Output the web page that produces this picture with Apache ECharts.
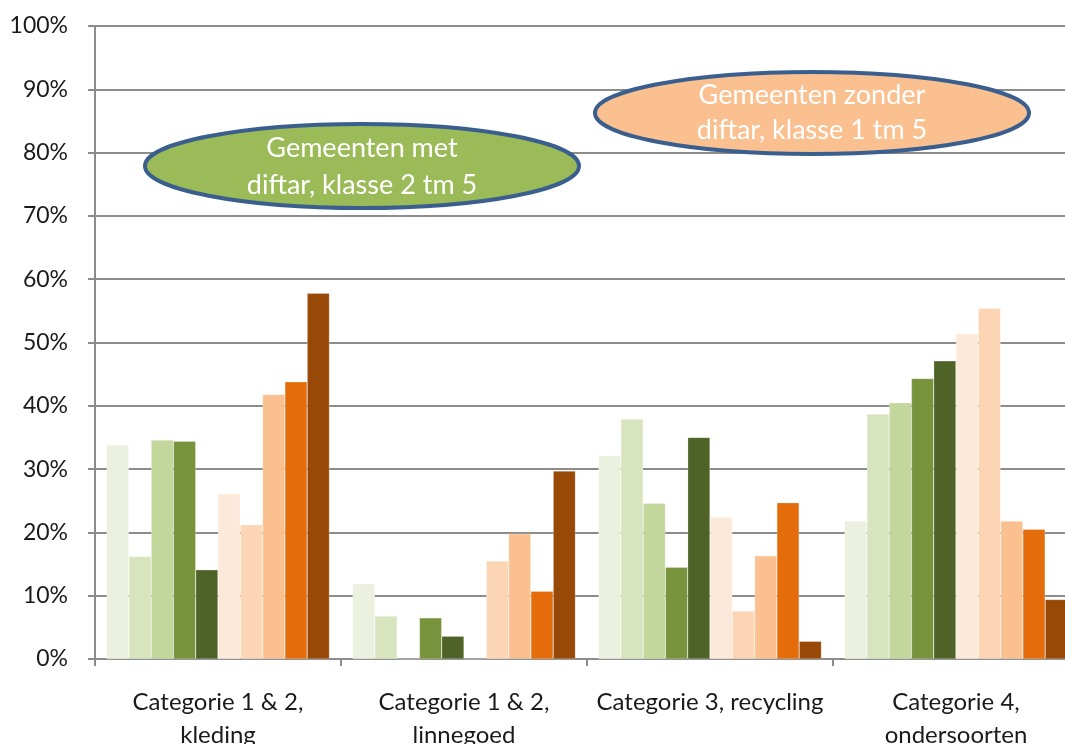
<!DOCTYPE html>
<html>
<head>
<meta charset="utf-8">
<script src="https://cdn.jsdelivr.net/npm/echarts@6/dist/echarts.min.js"></script>
<style>
  html, body { margin: 0; padding: 0; background: #fff; }
  #chart { width: 1065px; height: 744px; }
</style>
</head>
<body>
<div id="chart"></div>
<script>
// Categories on the x axis
const categories = [
  'Categorie 1 & 2,\nkleding',
  'Categorie 1 & 2,\nlinnegoed',
  'Categorie 3, recycling',
  'Categorie 4,\nondersoorten'
];

// Share per category (%), municipalities with diftar
const metDiftar1 = [33.8, 11.9, 32.1, 21.8];
const metDiftar2 = [16.2, 6.8, 37.9, 38.7];
const metDiftar3 = [34.6, 0, 24.6, 40.5];
const metDiftar4 = [34.4, 6.5, 14.5, 44.3];
const metDiftar5 = [14.1, 3.6, 35.0, 47.1];

// Share per category (%), municipalities without diftar
const zonderDiftar1 = [26.1, 0, 22.4, 51.4];
const zonderDiftar2 = [21.2, 15.5, 7.6, 55.4];
const zonderDiftar3 = [41.8, 19.8, 16.3, 21.8];
const zonderDiftar4 = [43.8, 10.7, 24.7, 20.5];
const zonderDiftar5 = [57.8, 29.7, 2.8, 9.4];

const yTicks = { min: 0, max: 100, interval: 10 };

const seriesDefs = [
  { name: 'Met diftar 1', data: metDiftar1, color: '#EBF1DE' },
  { name: 'Met diftar 2', data: metDiftar2, color: '#D7E4BD' },
  { name: 'Met diftar 3', data: metDiftar3, color: '#C3D69B' },
  { name: 'Met diftar 4', data: metDiftar4, color: '#77933C' },
  { name: 'Met diftar 5', data: metDiftar5, color: '#4F6228' },
  { name: 'Zonder diftar 1', data: zonderDiftar1, color: '#FDE9D9' },
  { name: 'Zonder diftar 2', data: zonderDiftar2, color: '#FCD5B5' },
  { name: 'Zonder diftar 3', data: zonderDiftar3, color: '#FAC090' },
  { name: 'Zonder diftar 4', data: zonderDiftar4, color: '#E46C0A' },
  { name: 'Zonder diftar 5', data: zonderDiftar5, color: '#984807' }
];

const FONT = 'Lato, "Open Sans", sans-serif';
const chart = echarts.init(document.getElementById('chart'), null, { renderer: 'canvas' });

chart.setOption({
  animation: false,
  backgroundColor: '#ffffff',
  grid: {
    left: 95, right: -14, top: 26, bottom: 85,
    containLabel: false,
    outerBoundsMode: 'none'
  },
  xAxis: {
    type: 'category',
    data: categories,
    axisLine: { lineStyle: { color: '#8c8c8c', width: 2 } },
    axisTick: { show: true, length: 7, lineStyle: { color: '#8c8c8c', width: 2 } },
    axisLabel: {
      color: '#1a1a1a',
      fontFamily: FONT,
      fontSize: 24,
      lineHeight: 33,
      margin: 27,
      interval: 0
    }
  },
  yAxis: {
    type: 'value',
    min: yTicks.min,
    max: yTicks.max,
    interval: yTicks.interval,
    axisLine: { show: true, lineStyle: { color: '#8c8c8c', width: 2 } },
    axisTick: { show: true, length: 7, lineStyle: { color: '#8c8c8c', width: 2 } },
    splitLine: { lineStyle: { color: '#8c8c8c', width: 2 } },
    axisLabel: {
      formatter: '{value}%',
      color: '#1a1a1a',
      fontFamily: FONT,
      fontSize: 23,
      margin: 27
    }
  },
  series: seriesDefs.map(s => ({
    name: s.name,
    type: 'bar',
    data: s.data,
    barGap: '0%',
    barCategoryGap: '9.4%',
    itemStyle: { color: s.color, borderColor: 'rgba(255,255,255,0.5)', borderWidth: 0.5 }
  })),
  graphic: [
    {
      type: 'group',
      children: [
        {
          type: 'ellipse',
          shape: { cx: 362, cy: 166, rx: 217, ry: 42 },
          style: { fill: '#9BBB59', stroke: '#3A5F8F', lineWidth: 4 },
          z: 100
        },
        {
          type: 'text',
          x: 362, y: 167,
          z: 101,
          style: {
            text: 'Gemeenten met\ndiftar, klasse 2 tm 5',
            fill: '#ffffff',
            font: '27px ' + FONT,
            lineHeight: 37,
            align: 'center',
            verticalAlign: 'middle'
          }
        },
        {
          type: 'ellipse',
          shape: { cx: 812, cy: 113, rx: 217, ry: 41 },
          style: { fill: '#FAC090', stroke: '#3A5F8F', lineWidth: 4 },
          z: 100
        },
        {
          type: 'text',
          x: 812, y: 113,
          z: 101,
          style: {
            text: 'Gemeenten zonder\ndiftar, klasse 1 tm 5',
            fill: '#ffffff',
            font: '27px ' + FONT,
            lineHeight: 35,
            align: 'center',
            verticalAlign: 'middle'
          }
        }
      ]
    }
  ]
});
</script>
</body>
</html>
